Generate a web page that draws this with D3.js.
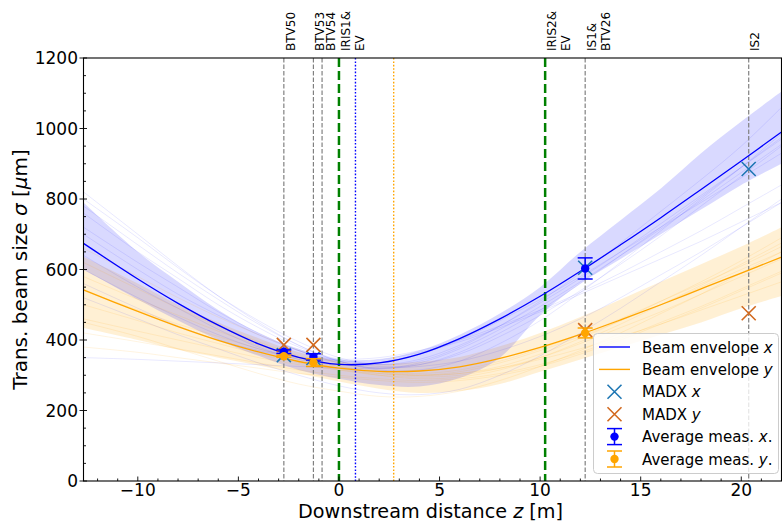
<!DOCTYPE html>
<html><head><meta charset="utf-8">
<script src="https://cdn.jsdelivr.net/npm/d3@7"></script>
<style>body{margin:0;background:#fff} svg text{font-family:"DejaVu Sans",sans-serif;fill:#000}</style>
</head><body><svg id="c" width="782" height="522"></svg>
<script>
// grid of downstream positions (m)
const zGrid = [-12.7,-10,-8,-6,-4,-2,0,2,4,6,8,10,12,14,16,18,20,22];
// main beam envelopes (um)
const envX = [674,573,504,442,389,351,331,335,360,404,460,524,595,670,747,827,908,990];
const envY = [542,481,438,399,366,339,320,311,312,324,348,379,416,457,500,545,590,635];
// uncertainty bands
const bandXLo = [600,515,455,400,355,315,290,272,268,292,350,470,560,630,700,770,840,900];
const bandXHi = [790,650,565,485,420,375,345,345,370,415,475,550,650,740,830,930,1020,1105];
const bandYLo = [434,400,372,350,328,305,282,262,250,255,275,310,345,380,415,450,490,525];
const bandYHi = [636,560,500,450,405,365,340,332,338,352,382,420,465,515,565,615,665,720];
// individual (faint) fits
const faintX = [
  [820,700,610,525,450,385,340,320,335,375,430,495,565,640,715,795,875,955],
  [760,650,575,500,435,380,345,330,345,385,440,505,575,650,730,810,890,970],
  [720,620,550,480,420,370,335,320,330,365,420,485,560,640,720,805,890,975],
  [640,550,490,430,380,345,330,335,360,400,455,515,580,650,720,790,860,930],
  [600,520,465,415,375,350,340,345,365,395,435,480,530,580,630,680,735,790],
  [560,490,440,400,370,350,345,350,370,400,440,485,535,590,650,710,775,840],
  [350,345,340,335,330,325,320,320,325,340,370,410,460,520,585,650,720,790],
  [700,600,530,470,415,370,340,325,330,360,410,470,540,615,695,780,865,950],
  [780,670,590,515,445,385,340,315,315,340,390,455,535,620,710,800,890,985],
  [520,460,415,375,335,300,270,250,245,260,300,355,420,490,565,640,720,800],
  [800,690,605,525,455,395,350,330,340,380,440,510,590,675,765,855,950,1060]
];
const faintY = [
  [620,545,490,440,395,355,325,305,300,310,335,370,410,455,500,550,600,650],
  [580,515,470,425,385,350,325,310,305,315,340,375,415,460,510,560,610,665],
  [500,455,420,390,360,335,315,300,295,300,320,350,390,435,480,530,580,630],
  [460,425,400,375,350,330,315,305,300,305,320,345,375,410,445,485,525,565],
  [380,365,350,335,320,305,295,285,280,285,300,325,360,400,445,490,540,590],
  [540,485,445,410,375,345,320,300,290,295,315,350,395,445,500,555,615,675],
  [660,580,520,465,415,370,335,310,300,305,325,360,405,455,510,565,625,690],
  [420,395,375,355,335,315,300,290,285,290,305,330,365,405,450,495,545,595],
  [450,410,375,340,305,275,255,240,240,255,285,325,370,420,475,530,590,650]
];
// measurements
const measZ = [-2.74,-1.27,12.24];
const measX = [367,352,603];
const measXErr = [5,9,30];
const measY = [354,336,420];
const measYErr = [3,11,14];
const madxZ = [-2.74,-1.27,12.24,20.37];
const madxX = [357,349,605,885];
const madxY = [386,386,428,476];
// element markers
const elemNames = [["BTV50"],["BTV53"],["BTV54"],["IRIS1&","EV"],["IRIS2&","EV"],["IS1&","BTV26"],["IS2"]];
const elemZ = [-2.74,-1.27,-0.84,0,10.25,12.24,20.37];
const elemKind = ["screen","screen","screen","iris","iris","screen","screen"];
const waistZ = [0.82,2.72];
const waistColor = ["#0000ff","#ffa500"];
const xTicks = [-10,-5,0,5,10,15,20];
const yTicks = [0,200,400,600,800,1000,1200];
const legendLabels = [["Beam envelope ","x"],["Beam envelope ","y"],["MADX ","x"],["MADX ","y"],["Average meas. ","x","."],["Average meas. ","y","."]];

const L=83.5,R=781.5,T=58,B=481;
const svg=d3.select("#c");
const x=d3.scaleLinear().domain([-12.7,22]).range([L,R]);
const y=d3.scaleLinear().domain([0,1200]).range([B,T]);
const BLUE="#0000ff",ORANGE="#ffa500",MX="#1f77b4",MY="#d2691e";
svg.append("defs").append("clipPath").attr("id","clip").append("rect").attr("x",L).attr("y",T).attr("width",R-L).attr("height",B-T);
const g=svg.append("g").attr("clip-path","url(#clip)");
const line=d3.line().x((d,i)=>x(zGrid[i])).y(d=>y(d)).curve(d3.curveCatmullRom);
const area=(lo,hi)=>d3.area().x((d,i)=>x(zGrid[i])).y0((d,i)=>y(lo[i])).y1((d,i)=>y(hi[i])).curve(d3.curveCatmullRom)(zGrid);

g.append("path").attr("d",area(bandYLo,bandYHi)).attr("fill",ORANGE).attr("fill-opacity",0.17);
g.append("path").attr("d",area(bandXLo,bandXHi)).attr("fill",BLUE).attr("fill-opacity",0.15);
faintY.forEach(s=>g.append("path").attr("d",line(s)).attr("fill","none").attr("stroke",ORANGE).attr("stroke-opacity",0.12).attr("stroke-width",1));
faintX.forEach(s=>g.append("path").attr("d",line(s)).attr("fill","none").attr("stroke",BLUE).attr("stroke-opacity",0.09).attr("stroke-width",1));

// vertical lines
elemZ.forEach((z,i)=>{
  const iris=elemKind[i]==="iris";
  g.append("line").attr("x1",x(z)).attr("x2",x(z)).attr("y1",T).attr("y2",B)
   .attr("stroke",iris?"#008000":"#808080").attr("stroke-width",iris?2.5:1.2)
   .attr("stroke-dasharray",iris?"9,4":"4.5,2");
});
waistZ.forEach((z,i)=>g.append("line").attr("x1",x(z)).attr("x2",x(z)).attr("y1",T).attr("y2",B)
  .attr("stroke",waistColor[i]).attr("stroke-width",1.4).attr("stroke-dasharray","1.6,1.8"));

g.append("path").attr("d",line(envX)).attr("fill","none").attr("stroke",BLUE).attr("stroke-width",1.3);
g.append("path").attr("d",line(envY)).attr("fill","none").attr("stroke",ORANGE).attr("stroke-width",1.3);

const cross=(sel,cx,cy,col)=>sel.append("path").attr("d",`M${cx-7},${cy-7}L${cx+7},${cy+7}M${cx-7},${cy+7}L${cx+7},${cy-7}`).attr("stroke",col).attr("stroke-width",1.6).attr("fill","none");
madxZ.forEach((z,i)=>cross(g,x(z),y(madxX[i]),MX));
madxZ.forEach((z,i)=>cross(g,x(z),y(madxY[i]),MY));
const errbar=(sel,cx,cy,e,col)=>{
  sel.append("line").attr("x1",cx).attr("x2",cx).attr("y1",cy-e).attr("y2",cy+e).attr("stroke",col).attr("stroke-width",1.5);
  [cy-e,cy+e].forEach(v=>sel.append("line").attr("x1",cx-7.5).attr("x2",cx+7.5).attr("y1",v).attr("y2",v).attr("stroke",col).attr("stroke-width",1.5));
  sel.append("circle").attr("cx",cx).attr("cy",cy).attr("r",4.2).attr("fill",col);
};
measZ.forEach((z,i)=>errbar(g,x(z),y(measX[i]),y(0)-y(measXErr[i]),BLUE));
measZ.forEach((z,i)=>errbar(g,x(z),y(measY[i]),y(0)-y(measYErr[i]),ORANGE));

// element labels (laid out left to right, pushed right to avoid collisions)
const FS=12, LH=14, CAP=9.2;
let prevRight=-1e9;
elemZ.forEach((z,i)=>{
  const left=Math.max(x(z)+1.5, prevRight+1.2);
  const n=elemNames[i].length;
  prevRight=left+CAP+(n-1)*LH;
  const t=svg.append("text").attr("font-size",FS).attr("transform",`translate(${left},${51}) rotate(-90)`);
  elemNames[i].forEach((s,j)=>t.append("tspan").attr("x",0).attr("y",CAP+j*LH).text(s));
});

// axes frame & ticks
const ax=svg.append("g").attr("stroke","#000");
ax.append("rect").attr("x",L).attr("y",T).attr("width",R-L).attr("height",B-T).attr("fill","none").attr("stroke-width",1.1);
d3.range(-12,23,1).forEach(v=>{const major=v%5===0;ax.append("line").attr("x1",x(v)).attr("x2",x(v)).attr("y1",B).attr("y2",B-(major?4.5:2.5)).attr("stroke-width",0.9);});
d3.range(0,1201,50).forEach(v=>{const major=v%200===0;ax.append("line").attr("x1",major?L-4:L).attr("x2",L+(major?3.5:2.5)).attr("y1",y(v)).attr("y2",y(v)).attr("stroke-width",0.9);});
xTicks.forEach(v=>svg.append("text").attr("x",x(v)).attr("y",495.5).attr("text-anchor","middle").attr("font-size",17).text(v<0?"\u2212"+(-v):v));
yTicks.forEach(v=>svg.append("text").attr("x",L-5.5).attr("y",y(v)+6).attr("text-anchor","end").attr("font-size",17).text(v));

const xl=svg.append("text").attr("x",(L+R)/2-2).attr("y",517.5).attr("text-anchor","middle").attr("font-size",19.2);
xl.append("tspan").text("Downstream distance ");xl.append("tspan").attr("font-style","italic").text("z");xl.append("tspan").text(" [m]");
const yl=svg.append("text").attr("transform",`translate(27,${(T+B)/2}) rotate(-90)`).attr("text-anchor","middle").attr("font-size",20);
yl.append("tspan").text("Trans. beam size ");yl.append("tspan").attr("font-style","italic").text("\u03C3");yl.append("tspan").text(" [");yl.append("tspan").attr("font-style","italic").text("\u03BC");yl.append("tspan").text("m]");

// legend
const lg=svg.append("g");
lg.append("rect").attr("x",593.5).attr("y",333.5).attr("width",185).attr("height",140).attr("rx",4).attr("fill","#fff").attr("fill-opacity",0.8).attr("stroke","#cccccc");
const rowY=d3.range(6).map(i=>347+i*22.4);
const hx=614.5;
lg.append("line").attr("x1",599).attr("x2",630).attr("y1",rowY[0]).attr("y2",rowY[0]).attr("stroke",BLUE).attr("stroke-width",1.4);
lg.append("line").attr("x1",599).attr("x2",630).attr("y1",rowY[1]).attr("y2",rowY[1]).attr("stroke",ORANGE).attr("stroke-width",1.4);
cross(lg,hx,rowY[2],MX);cross(lg,hx,rowY[3],MY);
errbar(lg,hx,rowY[4],8,BLUE);errbar(lg,hx,rowY[5],8,ORANGE);
legendLabels.forEach((p,i)=>{
  const t=lg.append("text").attr("x",642).attr("y",rowY[i]+5.5).attr("font-size",15);
  t.append("tspan").text(p[0]);t.append("tspan").attr("font-style","italic").text(p[1]);
  if(p[2])t.append("tspan").text(p[2]);
});
</script></body></html>
